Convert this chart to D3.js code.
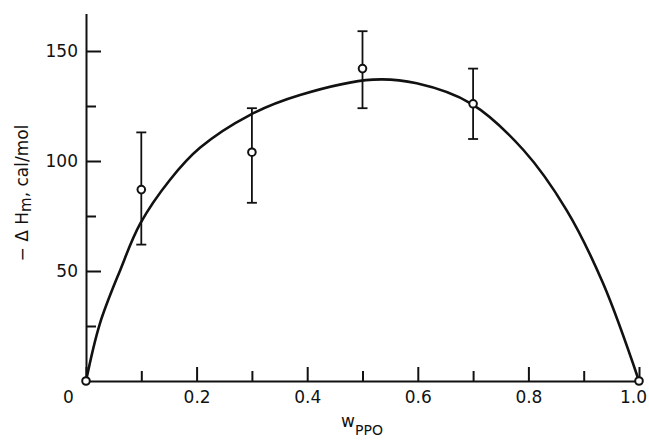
<!DOCTYPE html>
<html>
<head>
<meta charset="utf-8">
<script src="https://cdn.jsdelivr.net/npm/d3@7"></script>
<style>
  body { margin: 0; background: #fff; }
  svg { display: block; }
  text { font-family: "DejaVu Sans", sans-serif; fill: #111; }
</style>
</head>
<body>
<svg id="chart" width="649" height="444"></svg>
<script>
// measured points (open circles) with error bars
const wData = [0, 0.1, 0.3, 0.5, 0.7, 1.0];
const dhData = [0, 87, 104, 142, 126, 0];
const errLow = [null, 62, 81, 124, 110, null];
const errHigh = [null, 113, 124, 159, 142, null];

// smooth fitted curve
const curveW = [0, 0.025, 0.062, 0.098, 0.152, 0.206, 0.297, 0.387, 0.519, 0.598, 0.697, 0.791, 0.869, 0.935, 1.0];
const curveDH = [0, 26, 50.5, 71.5, 91.5, 106, 121, 130, 137, 135.3, 126, 105, 77.7, 44.4, 0];

const xMajor = [0, 0.2, 0.4, 0.6, 0.8, 1.0];
const xTickLabels = ['0', '0.2', '0.4', '0.6', '0.8', '1.0'];
const xMinor = [0.1, 0.3, 0.5, 0.7, 0.9];
const yMajor = [50, 100, 150];
const yMinor = [25, 75, 125];

const ink = '#111';
const svg = d3.select('#chart');

const x = d3.scaleLinear().domain([0, 1]).range([86, 639]);
const y = d3.scaleLinear().domain([0, 167]).range([381, 13.6]);

// y axis: inward ticks
svg.append('g')
    .attr('transform', `translate(${x(0)},0)`)
    .call(d3.axisLeft(y).tickValues(yMinor).tickSizeInner(-10).tickSizeOuter(0).tickFormat(''))
    .call(g => g.select('.domain').remove());

svg.append('g')
    .attr('transform', `translate(${x(0)},0)`)
    .call(d3.axisLeft(y).tickValues(yMajor).tickSizeInner(-15).tickSizeOuter(0).tickPadding(8));

// x axis: inward ticks
svg.append('g')
    .attr('transform', `translate(0,${y(0)})`)
    .call(d3.axisBottom(x).tickValues(xMinor).tickSizeInner(-10).tickSizeOuter(0).tickFormat(''))
    .call(g => g.select('.domain').remove());

const xAxis = svg.append('g')
    .attr('transform', `translate(0,${y(0)})`)
    .call(d3.axisBottom(x).tickValues(xMajor).tickSizeInner(-14).tickSizeOuter(0).tickPadding(10)
        .tickFormat((d, i) => xTickLabels[i]));

xAxis.selectAll('.tick text').filter(d => d === 0).attr('dx', -18);
xAxis.selectAll('.tick text').filter(d => d === 1).attr('dx', -6);

svg.selectAll('.domain, .tick line')
    .attr('stroke', ink)
    .attr('stroke-width', 2);

svg.selectAll('.tick text')
    .style('font-size', '17px')
    .attr('fill', ink);

// fitted curve
const line = d3.line()
    .x(d => x(d[0]))
    .y(d => y(d[1]))
    .curve(d3.curveCatmullRom.alpha(0.5));

svg.append('path')
    .datum(curveW.map((w, i) => [w, curveDH[i]]))
    .attr('d', line)
    .attr('fill', 'none')
    .attr('stroke', ink)
    .attr('stroke-width', 2.6);

// error bars
const pts = wData.map((w, i) => ({ w: w, v: dhData[i], lo: errLow[i], hi: errHigh[i] }));
const bars = svg.append('g')
    .selectAll('g')
    .data(pts.filter(d => d.lo !== null))
    .join('g')
    .attr('stroke', ink)
    .attr('stroke-width', 1.8);

bars.append('line')
    .attr('x1', d => x(d.w)).attr('x2', d => x(d.w))
    .attr('y1', d => y(d.lo)).attr('y2', d => y(d.hi));
bars.append('line')
    .attr('x1', d => x(d.w) - 5).attr('x2', d => x(d.w) + 5)
    .attr('y1', d => y(d.hi)).attr('y2', d => y(d.hi));
bars.append('line')
    .attr('x1', d => x(d.w) - 5).attr('x2', d => x(d.w) + 5)
    .attr('y1', d => y(d.lo)).attr('y2', d => y(d.lo));

// open circles
svg.append('g')
    .selectAll('circle')
    .data(pts)
    .join('circle')
    .attr('cx', d => x(d.w))
    .attr('cy', d => y(d.v))
    .attr('r', 3.8)
    .attr('fill', '#fff')
    .attr('stroke', ink)
    .attr('stroke-width', 2);

// axis titles
const yTitle = svg.append('text')
    .attr('transform', 'translate(28,193) rotate(-90)')
    .attr('text-anchor', 'middle')
    .style('font-size', '17px');
yTitle.append('tspan').text('\u2212 \u0394 H');
yTitle.append('tspan').attr('dy', 3).style('font-size', '15px').text('m');
yTitle.append('tspan').attr('dy', -3).text(', cal/mol');

const xTitle = svg.append('text')
    .attr('x', 362)
    .attr('y', 427)
    .attr('text-anchor', 'middle')
    .style('font-size', '17px');
xTitle.append('tspan').text('w');
xTitle.append('tspan').attr('dy', 8).style('font-size', '14px').text('PPO');
</script>
</body>
</html>
